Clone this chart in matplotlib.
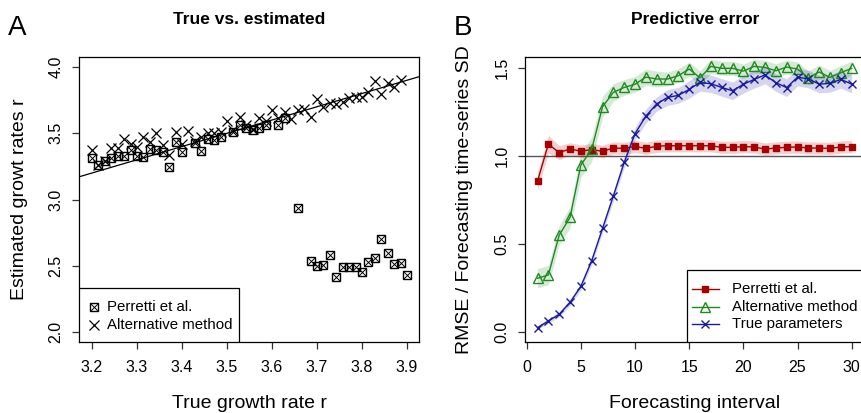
import numpy as np
import matplotlib
matplotlib.use('Agg')
import matplotlib.pyplot as plt
from matplotlib.patches import Rectangle

plt.rcParams['font.family'] = ['Liberation Sans', 'DejaVu Sans']

nan = np.nan
W, H = 861, 413

# ---------------- Panel A data ----------------
true_r = [3.200, 3.214, 3.229, 3.243, 3.257, 3.271, 3.286, 3.300, 3.314, 3.329,
          3.343, 3.357, 3.371, 3.386, 3.400, 3.414, 3.429, 3.443, 3.457, 3.471,
          3.486, 3.500, 3.514, 3.529, 3.543, 3.557, 3.571, 3.586, 3.600, 3.614,
          3.629, 3.643, 3.657, 3.671, 3.686, 3.700, 3.714, 3.729, 3.743, 3.757,
          3.771, 3.786, 3.800, 3.814, 3.829, 3.843, 3.857, 3.871, 3.886, 3.900]
perretti_r = [3.311, 3.258, 3.293, 3.311, 3.328, 3.331, 3.374, 3.328, 3.323, 3.379,
              3.374, 3.356, 3.248, 3.436, 3.361, nan, 3.424, 3.366, 3.454, 3.449,
              3.474, nan, 3.512, 3.562, 3.537, 3.527, 3.542, 3.562, nan, 3.560,
              3.614, nan, 2.938, nan, 2.538, 2.500, 2.508, 2.581, 2.413, 2.493,
              2.488, 2.493, 2.450, 2.531, 2.561, 2.700, 2.599, 2.511, 2.523, 2.430]
alt_r = [3.370, 3.258, 3.293, 3.386, 3.386, 3.454, 3.416, 3.398, 3.469, 3.432,
         3.500, 3.411, 3.336, 3.512, 3.419, 3.517, 3.444, 3.469, 3.500, 3.504,
         3.512, 3.595, 3.525, 3.625, 3.566, 3.530, 3.615, 3.594, 3.678, 3.613,
         3.663, 3.605, 3.672, 3.681, 3.620, 3.756, 3.700, 3.726, 3.721, 3.733,
         3.764, 3.771, 3.775, 3.814, 3.894, 3.800, 3.877, 3.852, 3.902, nan]
identity_line = [3.0, 4.2]
a_xticks = [3.2, 3.3, 3.4, 3.5, 3.6, 3.7, 3.8, 3.9]
a_yticks = [2.0, 2.5, 3.0, 3.5, 4.0]

# ---------------- Panel B data ----------------
interval = list(range(1, 31))
rmse_perretti = [0.858, 1.068, 1.020, 1.041, 1.028, 1.037, 1.027, 1.046, 1.044, 1.055,
                 1.044, 1.056, 1.059, 1.059, 1.059, 1.059, 1.059, 1.050, 1.050, 1.054,
                 1.052, 1.040, 1.046, 1.050, 1.052, 1.046, 1.046, 1.044, 1.052, 1.054]
rmse_alt = [0.304, 0.323, 0.550, 0.651, 0.949, 1.038, 1.281, 1.363, 1.391, 1.409,
            1.450, 1.439, 1.439, 1.458, 1.496, 1.446, 1.511, 1.500, 1.500, 1.484,
            1.511, 1.505, 1.486, 1.507, 1.496, 1.446, 1.479, 1.448, 1.475, 1.500]
rmse_true = [0.023, 0.061, 0.099, 0.167, 0.258, 0.404, 0.588, 0.773, 0.964, 1.128,
             1.228, 1.297, 1.334, 1.346, 1.380, 1.420, 1.412, 1.391, 1.372, 1.409,
             1.437, 1.462, 1.418, 1.390, 1.450, 1.439, 1.410, 1.414, 1.437, 1.410]
hw_perretti = [0.05, 0.05, 0.04, 0.035, 0.035, 0.035, 0.035, 0.035, 0.035, 0.035,
               0.035, 0.035, 0.035, 0.035, 0.035, 0.035, 0.035, 0.035, 0.035, 0.035,
               0.035, 0.035, 0.035, 0.035, 0.035, 0.035, 0.035, 0.035, 0.035, 0.035]
hw_alt = [0.055, 0.055, 0.055, 0.06, 0.07, 0.07, 0.06, 0.05, 0.045, 0.045,
          0.045, 0.045, 0.04, 0.04, 0.04, 0.04, 0.04, 0.04, 0.04, 0.04,
          0.04, 0.04, 0.04, 0.04, 0.04, 0.04, 0.04, 0.04, 0.04, 0.04]
hw_true = [0.01, 0.012, 0.015, 0.018, 0.02, 0.022, 0.025, 0.028, 0.03, 0.035,
           0.04, 0.04, 0.045, 0.045, 0.05, 0.05, 0.05, 0.05, 0.05, 0.05,
           0.05, 0.05, 0.05, 0.05, 0.05, 0.05, 0.05, 0.05, 0.05, 0.05]
b_xticks = [0, 5, 10, 15, 20, 25, 30]
b_yticks = [0.0, 0.5, 1.0, 1.5]

RED = '#a80000'
GREEN = '#1e8a1e'
BLUE = '#1a1aa0'
TICK_FS = 11.5
LEG_FS = 10.8

fig = plt.figure(figsize=(W / 100, H / 100), dpi=100)


def px_axes(x0, x1, top, bottom):
    return fig.add_axes([x0 / W, 1 - bottom / H, (x1 - x0) / W, (bottom - top) / H])


def style(ax):
    for s in ax.spines.values():
        s.set_linewidth(0.9)
        s.set_color('black')
    ax.tick_params(direction='out', length=5, width=0.9, labelsize=TICK_FS, color='#333333')
    ax.tick_params(axis='x', pad=8)
    ax.tick_params(axis='y', pad=6, labelrotation=90)
    for lab in ax.get_yticklabels():
        lab.set_va('center')


def ftext(x, y, s, **kw):
    fig.text(x / W, 1 - y / H, s, **kw)


# ---------------- Panel A ----------------
axA = px_axes(79, 419, 57, 342)
axA.set_xlim(3.1711, 3.9267)
axA.set_ylim(1.9245, 4.0755)
axA.plot(identity_line, identity_line, color='black', lw=0.9, zorder=1)
tr = np.array(true_r)
axA.plot(tr, perretti_r, ls='none', marker='s', ms=5.4, mfc='none', mec='black', mew=1.0, zorder=3)
axA.plot(tr, perretti_r, ls='none', marker='x', ms=5.4, mec='black', mew=0.7, zorder=3)
axA.plot(tr, alt_r, ls='none', marker='x', ms=7, mec='black', mew=0.9, zorder=2)
axA.set_xticks(a_xticks)
axA.set_xticklabels([f'{v:.1f}' for v in a_xticks])
axA.set_yticks(a_yticks)
axA.set_yticklabels([f'{v:.1f}' for v in a_yticks])
style(axA)


def fa(x, y):
    return ((x - 79) / 340, (342 - y) / 285)


axA.add_patch(Rectangle(fa(79, 342), 160 / 340, 54 / 285, transform=axA.transAxes,
                        facecolor='white', edgecolor='black', lw=0.9, zorder=5))
mx, my = fa(93.5, 307)
axA.plot([mx], [my], transform=axA.transAxes, marker='s', ms=5.2, mfc='none', mec='black', mew=1.0, zorder=6)
axA.plot([mx], [my], transform=axA.transAxes, marker='x', ms=5.2, mec='black', mew=0.7, zorder=6)
mx2, my2 = fa(93.5, 325)
axA.plot([mx2], [my2], transform=axA.transAxes, marker='x', ms=7, mec='black', mew=0.9, zorder=6)
axA.text(*fa(106.7, 307), 'Perretti et al.', transform=axA.transAxes, va='center', ha='left', fontsize=LEG_FS, zorder=6)
axA.text(*fa(106.7, 325), 'Alternative method', transform=axA.transAxes, va='center', ha='left', fontsize=LEG_FS, zorder=6)

# ---------------- Panel B ----------------
axB = px_axes(525, 865, 57, 342)
axB.set_xlim(-0.157, 31.23)
axB.set_ylim(-0.0587, 1.5644)
axB.axhline(1.0, color='#555555', lw=1.0, zorder=1)
series = [(rmse_perretti, hw_perretti, RED, dict(marker='s', ms=5, mfc=RED, mec=RED), 'Perretti et al.'),
          (rmse_alt, hw_alt, GREEN, dict(marker='^', ms=6.5, mfc='none', mec=GREEN, mew=1.0), 'Alternative method'),
          (rmse_true, hw_true, BLUE, dict(marker='x', ms=5.5, mec=BLUE, mew=1.0), 'True parameters')]
for vals, hw, col, mk, lab in series:
    v = np.array(vals)
    h = np.array(hw)
    axB.fill_between(interval, v - h, v + h, color=col, alpha=0.18, lw=0, zorder=2)
    axB.plot(interval, v, color=col, lw=1.0, zorder=3, **mk)
axB.set_xticks(b_xticks)
axB.set_xticklabels([str(v) for v in b_xticks])
axB.set_yticks(b_yticks)
axB.set_yticklabels([f'{v:.1f}' for v in b_yticks])
style(axB)


def fb(x, y):
    return ((x - 525) / 340, (342 - y) / 285)


axB.add_patch(Rectangle(fb(687, 342), (865 - 687) / 340, 72 / 285, transform=axB.transAxes,
                        facecolor='white', edgecolor='black', lw=0.9, zorder=5))
for (vals, hw, col, mk, lab), yy in zip(series, [289, 306.7, 324.3]):
    x0, y0 = fb(691.7, yy)
    x1, _ = fb(719, yy)
    xm, _ = fb(705.3, yy)
    axB.plot([x0, x1], [y0, y0], transform=axB.transAxes, color=col, lw=1.0, zorder=6)
    axB.plot([xm], [y0], transform=axB.transAxes, color=col, zorder=6, **mk)
    axB.text(*fb(732.3, yy), lab, transform=axB.transAxes, va='center', ha='left', fontsize=LEG_FS, zorder=6)

# ---------------- Titles & labels ----------------
ftext(249, 20, 'True vs. estimated', ha='center', va='center', fontsize=12.5, fontweight='bold')
ftext(695, 20, 'Predictive error', ha='center', va='center', fontsize=12.5, fontweight='bold')
ftext(8, 35, 'A', ha='left', va='baseline', fontsize=20)
ftext(454, 35, 'B', ha='left', va='baseline', fontsize=20)
ftext(249, 408.5, 'True growth rate r', ha='center', va='baseline', fontsize=14)
ftext(695, 408.5, 'Forecasting interval', ha='center', va='baseline', fontsize=14)
fig.text(24 / W, 1 - 199.5 / H, 'Estimated growt rates r', rotation=90, rotation_mode='anchor',
         ha='center', va='baseline', fontsize=14)
fig.text(469 / W, 1 - 199.5 / H, 'RMSE / Forecasting time-series SD', rotation=90, rotation_mode='anchor',
         ha='center', va='baseline', fontsize=14)

fig.savefig('out.png', dpi=100)
